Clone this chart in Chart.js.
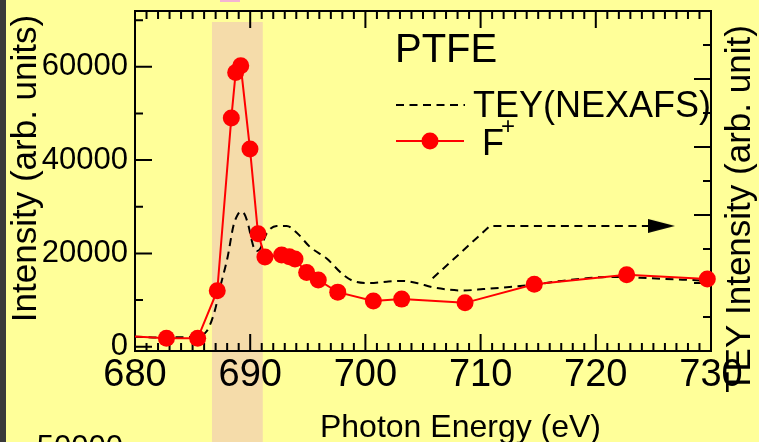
<!DOCTYPE html>
<html>
<head>
<meta charset="utf-8">
<script src="https://cdn.jsdelivr.net/npm/chart.js@4"></script>
<style>
  html, body { margin: 0; padding: 0; background: #ffff99; }
  canvas { display: block; }
</style>
</head>
<body>
<canvas id="chart" width="759" height="442"></canvas>
<script>
const FONT = "'Liberation Sans', Arial, sans-serif";

// F+ ion yield (left axis)
const energyF = [679, 682.73, 685.44, 687.14, 688.36, 688.74, 689.18, 689.98, 690.68, 691.28,
  692.73, 693.39, 693.89, 694.90, 695.91, 697.60, 700.69, 703.15, 708.65, 714.66, 722.68, 729.68];
const fIon = [2300, 1800, 1800, 12000, 49000, 58800, 60200, 42400, 24200, 19250,
  19650, 19300, 18800, 15900, 14300, 11700, 9800, 10200, 9400, 13400, 15400, 14500];

// TEY (NEXAFS) on the right axis
const energyTey = [680, 682.17, 685.21, 686.22, 686.94, 687.38, 688.05, 688.53, 688.90, 689.20,
  689.51, 689.84, 690.13, 690.33, 690.59, 690.85, 691.43, 692.30, 693.17, 694.04, 695.19,
  696.64, 698.08, 698.95, 700.40, 701.85, 703.15, 704.45, 705.76, 707.34, 708.50, 710.23,
  714.29, 717.47, 721.23, 724.70, 730];
const tey = [0.21, 0.20, 0.21, 0.29, 0.60, 0.93, 1.39, 1.83, 2.00, 2.05,
  2.01, 1.85, 1.63, 1.51, 1.47, 1.50, 1.73, 1.84, 1.84, 1.74, 1.53,
  1.36, 1.12, 1.03, 1.00, 1.02, 1.03, 1.00, 0.94, 0.90, 0.89, 0.91,
  0.97, 1.04, 1.09, 1.07, 1.03];

// arrow pointing the TEY curve to its axis
const arrowX = [705.84, 710.82, 725.7];
const arrowY = [1.07, 1.84, 1.84];

const xTicks = [680, 690, 700, 710, 720, 730];
const yTicks = [0, 20000, 40000, 60000];
const band = [686.68, 691.09];
const bandTop = 69600;

const pts = (xs, ys) => xs.map((x, i) => ({ x, y: ys[i] }));

// long thin arrowhead used as a point style
const arrowHead = document.createElement('canvas');
arrowHead.width = 27; arrowHead.height = 14;
(() => {
  const c = arrowHead.getContext('2d');
  c.fillStyle = '#000';
  c.beginPath();
  c.moveTo(0, 0); c.lineTo(27, 7); c.lineTo(0, 14); c.closePath();
  c.fill();
})();

const decor = {
  id: 'decor',
  beforeDraw(chart) {
    const { ctx, scales: { x, y } } = chart;
    ctx.save();
    ctx.fillStyle = '#ffff99';
    ctx.fillRect(0, 0, chart.width, chart.height);
    ctx.fillStyle = '#3a3a3a';
    ctx.fillRect(0, 0, 6, chart.height);
    const bx0 = x.getPixelForValue(band[0]);
    const bx1 = x.getPixelForValue(band[1]);
    ctx.fillStyle = '#f5dcaa';
    ctx.fillRect(bx0, y.getPixelForValue(bandTop), bx1 - bx0, chart.height);
    ctx.fillStyle = '#f4b4d4';
    ctx.fillRect(220, 0, 20, 2);
    ctx.restore();
  },
  beforeDatasetsDraw(chart) {
    const { ctx, chartArea: a, scales: { x, y, y2 } } = chart;
    ctx.save();
    ctx.strokeStyle = '#000';
    ctx.lineWidth = 2;
    ctx.beginPath();
    for (let e = 680; e <= 730; e++) {
      const px = x.getPixelForValue(e);
      const len = e % 10 === 0 ? 17 : 8;
      ctx.moveTo(px, a.bottom); ctx.lineTo(px, a.bottom - len);
      ctx.moveTo(px, a.top); ctx.lineTo(px, a.top + len);
    }
    for (let v = 0; v <= 70000; v += 10000) {
      const py = y.getPixelForValue(v);
      const len = v % 20000 === 0 ? 17 : 8;
      ctx.moveTo(a.left, py); ctx.lineTo(a.left + len, py);
    }
    for (let v = 0.5; v < 5; v += 0.5) {
      const py = y2.getPixelForValue(v);
      const len = Number.isInteger(v) ? 17 : 8;
      ctx.moveTo(a.right, py); ctx.lineTo(a.right - len, py);
    }
    ctx.stroke();
    ctx.strokeRect(a.left, a.top, a.width, a.height);

    // legend
    ctx.fillStyle = '#000';
    ctx.textAlign = 'left';
    ctx.textBaseline = 'alphabetic';
    ctx.font = `40px ${FONT}`;
    ctx.fillText('PTFE', 395, 62);
    ctx.setLineDash([8, 5.5]);
    ctx.beginPath();
    ctx.moveTo(396, 105); ctx.lineTo(465, 105);
    ctx.stroke();
    ctx.setLineDash([]);
    ctx.font = `36px ${FONT}`;
    ctx.fillText('TEY(NEXAFS)', 473, 117);
    ctx.strokeStyle = '#ff0000';
    ctx.beginPath();
    ctx.moveTo(396, 141); ctx.lineTo(464, 141);
    ctx.stroke();
    ctx.fillStyle = '#ff0000';
    ctx.beginPath();
    ctx.arc(430, 141, 8.5, 0, Math.PI * 2);
    ctx.fill();
    ctx.fillStyle = '#000';
    ctx.fillText('F', 482, 155);
    ctx.font = `24px ${FONT}`;
    ctx.textAlign = 'center';
    ctx.textBaseline = 'middle';
    ctx.fillText('+', 508, 127);
    ctx.restore();
  },
  afterDraw(chart) {
    const { ctx } = chart;
    ctx.save();
    ctx.fillStyle = '#000';
    ctx.textAlign = 'center';
    ctx.textBaseline = 'alphabetic';
    ctx.font = `35px ${FONT}`;
    ctx.save();
    ctx.translate(36, 168.5);
    ctx.rotate(-Math.PI / 2);
    ctx.fillText('Intensity (arb. units)', 0, 0);
    ctx.restore();
    ctx.save();
    ctx.translate(750, 209);
    ctx.rotate(-Math.PI / 2);
    ctx.fillText('TEY Intensity (arb. unit)', 0, 0);
    ctx.restore();
    ctx.font = `32px ${FONT}`;
    ctx.fillText('Photon Energy (eV)', 460.5, 437);
    ctx.font = `31px ${FONT}`;
    ctx.textAlign = 'right';
    ctx.fillText('50000', 123, 457);
    ctx.restore();
  }
};

new Chart(document.getElementById('chart'), {
  type: 'line',
  data: {
    datasets: [
      {
        label: 'F+',
        data: pts(energyF, fIon),
        yAxisID: 'y',
        borderColor: '#ff0000',
        backgroundColor: '#ff0000',
        borderWidth: 2,
        pointRadius: 8.5,
        pointBorderWidth: 0,
        clip: { left: 0, top: 20, right: 20, bottom: 20 }
      },
      {
        label: 'TEY(NEXAFS)',
        data: pts(energyTey, tey),
        yAxisID: 'y2',
        borderColor: '#000',
        borderWidth: 2,
        borderDash: [8, 5.5],
        pointRadius: 0,
        cubicInterpolationMode: 'monotone'
      },
      {
        label: 'arrow',
        data: pts(arrowX, arrowY),
        yAxisID: 'y2',
        borderColor: '#000',
        borderWidth: 2,
        borderDash: [8, 5.5],
        pointRadius: ctx => ctx.dataIndex === arrowX.length - 1 ? 5 : 0,
        pointStyle: arrowHead
      }
    ]
  },
  options: {
    responsive: false,
    animation: false,
    devicePixelRatio: 1,
    layout: { padding: { top: 11, left: 0, right: 0, bottom: 0 }, autoPadding: false },
    plugins: { legend: { display: false }, tooltip: { enabled: false } },
    scales: {
      x: {
        type: 'linear',
        position: 'bottom',
        min: 680,
        max: 730,
        grid: { display: false, drawTicks: false },
        border: { display: false },
        ticks: { font: { size: 38, family: FONT }, color: '#000', padding: 2, maxRotation: 0, autoSkip: false },
        afterBuildTicks: s => { s.ticks = xTicks.map(v => ({ value: v })); },
        afterFit: s => { s.height = 91; s.paddingLeft = 0; s.paddingRight = 0; }
      },
      y: {
        position: 'left',
        min: -920,
        max: 71960,
        grid: { display: false, drawTicks: false },
        border: { display: false },
        ticks: { font: { size: 31, family: FONT }, color: '#000', padding: 7, callback: v => String(v) },
        afterBuildTicks: s => { s.ticks = yTicks.map(v => ({ value: v })); },
        afterFit: s => { s.width = 135; s.paddingTop = 0; s.paddingBottom = 0; }
      },
      y2: {
        position: 'right',
        min: 0,
        max: 5,
        grid: { display: false, drawTicks: false },
        border: { display: false },
        ticks: { display: false },
        afterFit: s => { s.width = 48; s.paddingTop = 0; s.paddingBottom = 0; }
      }
    }
  },
  plugins: [decor]
});
</script>
</body>
</html>
